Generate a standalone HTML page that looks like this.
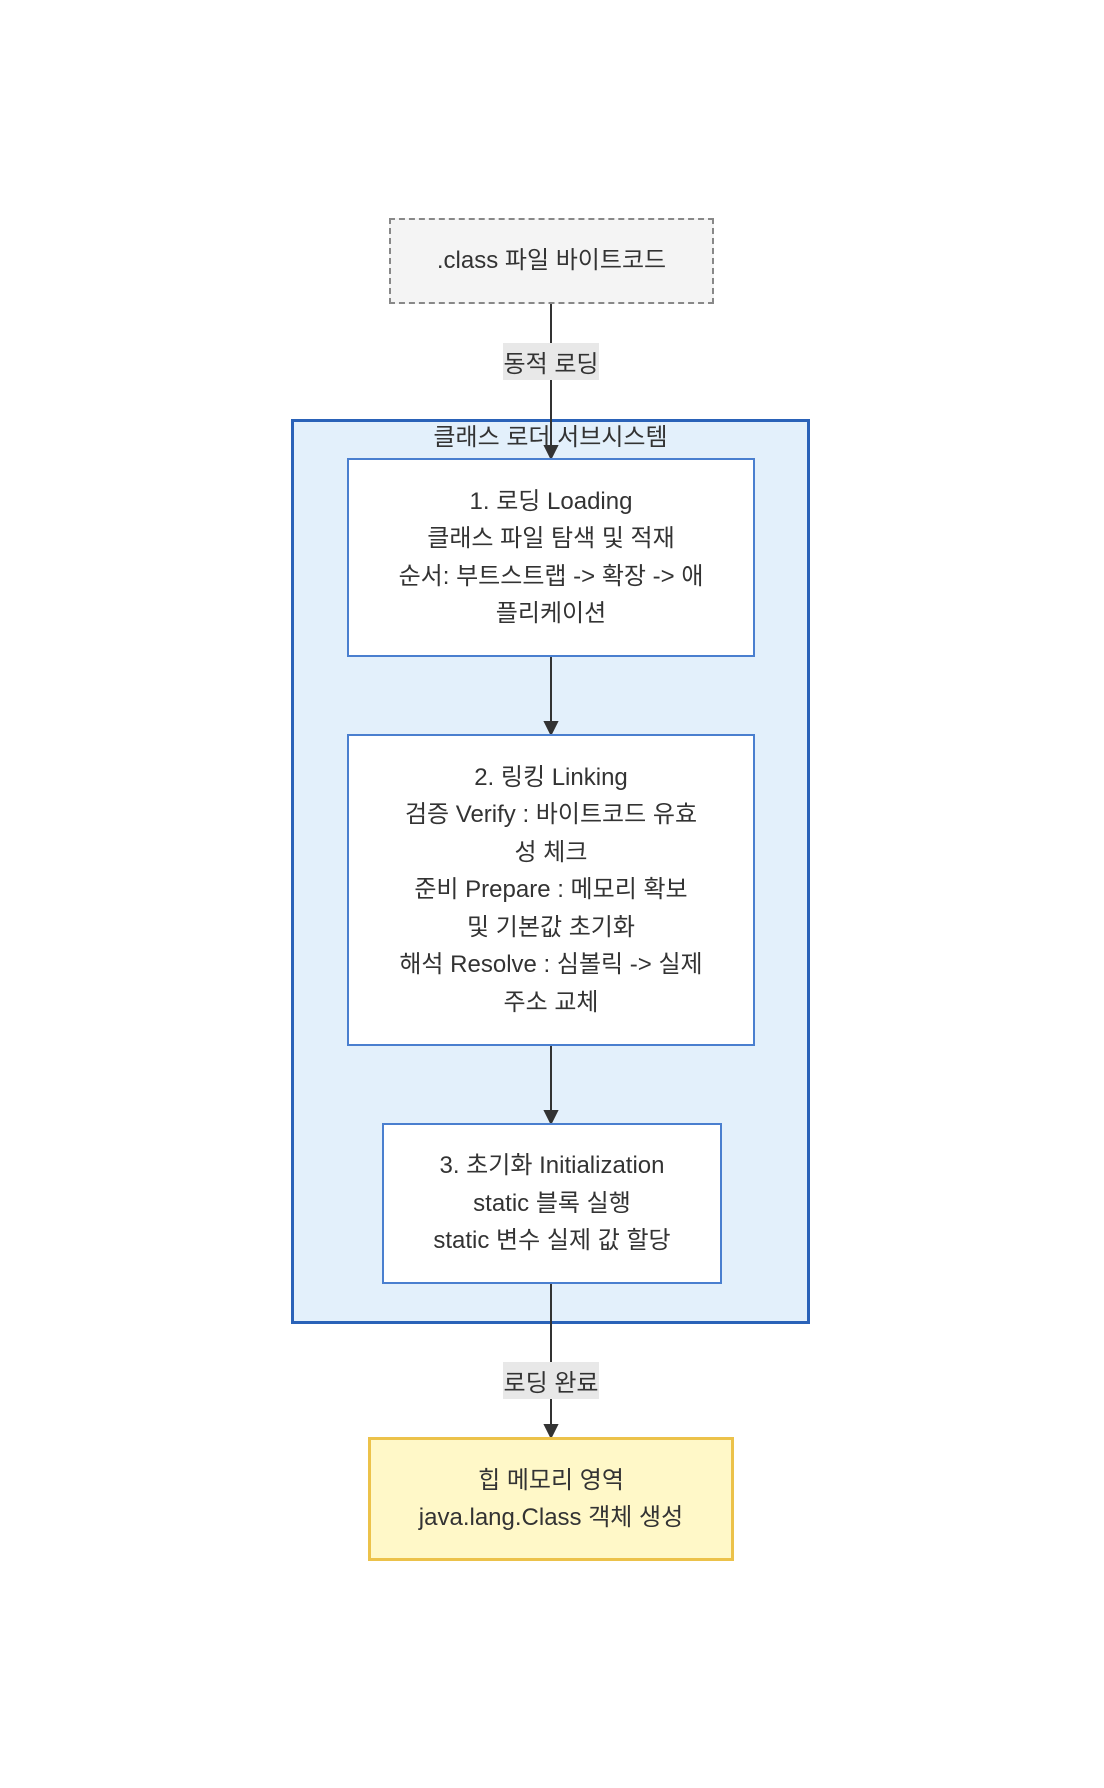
<!DOCTYPE html>
<html><head><meta charset="utf-8"><style>
html,body{margin:0;padding:0;background:#fff;}
body{width:1104px;height:1788px;position:relative;overflow:hidden;font-family:"Liberation Sans","Noto Sans CJK KR",sans-serif;color:#333;}
.b{position:absolute;box-sizing:border-box;display:flex;flex-direction:column;align-items:center;justify-content:center;text-align:center;font-size:24px;}
.b div{height:37.5px;line-height:37.5px;white-space:nowrap;}
.lbl{position:absolute;background:#e8e8e8;font-size:24px;display:flex;align-items:center;justify-content:center;}
</style></head><body>
<div class="b" style="left:291px;top:419px;width:519px;height:905px;background:#e3f0fb;border:3px solid #2a62b8;"></div>
<div style="position:absolute;left:291px;width:519px;top:422px;text-align:center;font-size:24px;line-height:32px;">클래스 로더 서브시스템</div>
<svg width="1104" height="1788" style="position:absolute;left:0;top:0">
<g stroke="#333" stroke-width="2" fill="#333">
<line x1="551" y1="303" x2="551" y2="450"/><polygon points="545,446 557,446 551,458"/>
<line x1="551" y1="656" x2="551" y2="726"/><polygon points="545,722 557,722 551,734"/>
<line x1="551" y1="1045" x2="551" y2="1115"/><polygon points="545,1111 557,1111 551,1123"/>
<line x1="551" y1="1283" x2="551" y2="1429"/><polygon points="545,1425 557,1425 551,1437"/>
</g></svg>
<div class="b" style="left:389px;top:218px;width:325px;height:86px;background:#f4f4f4;border:2px dashed #888;"><div>.class 파일 바이트코드</div></div>
<div class="lbl" style="left:503px;top:343px;width:96px;height:37px;">동적 로딩</div>
<div class="b" style="left:347px;top:458px;width:408px;height:199px;background:#fff;border:2px solid #4a7fcf;"><div>1. 로딩 Loading</div><div>클래스 파일 탐색 및 적재</div><div>순서: 부트스트랩 -&gt; 확장 -&gt; 애</div><div>플리케이션</div></div>
<div class="b" style="left:347px;top:734px;width:408px;height:312px;background:#fff;border:2px solid #4a7fcf;"><div>2. 링킹 Linking</div><div>검증 Verify : 바이트코드 유효</div><div>성 체크</div><div>준비 Prepare : 메모리 확보</div><div>및 기본값 초기화</div><div>해석 Resolve : 심볼릭 -&gt; 실제</div><div>주소 교체</div></div>
<div class="b" style="left:382px;top:1123px;width:340px;height:161px;background:#fff;border:2px solid #4a7fcf;"><div>3. 초기화 Initialization</div><div>static 블록 실행</div><div>static 변수 실제 값 할당</div></div>
<div class="lbl" style="left:503px;top:1362px;width:96px;height:37px;">로딩 완료</div>
<div class="b" style="left:368px;top:1437px;width:366px;height:124px;background:#fff8c8;border:3px solid #ecc24a;"><div>힙 메모리 영역</div><div>java.lang.Class 객체 생성</div></div>
</body></html>
